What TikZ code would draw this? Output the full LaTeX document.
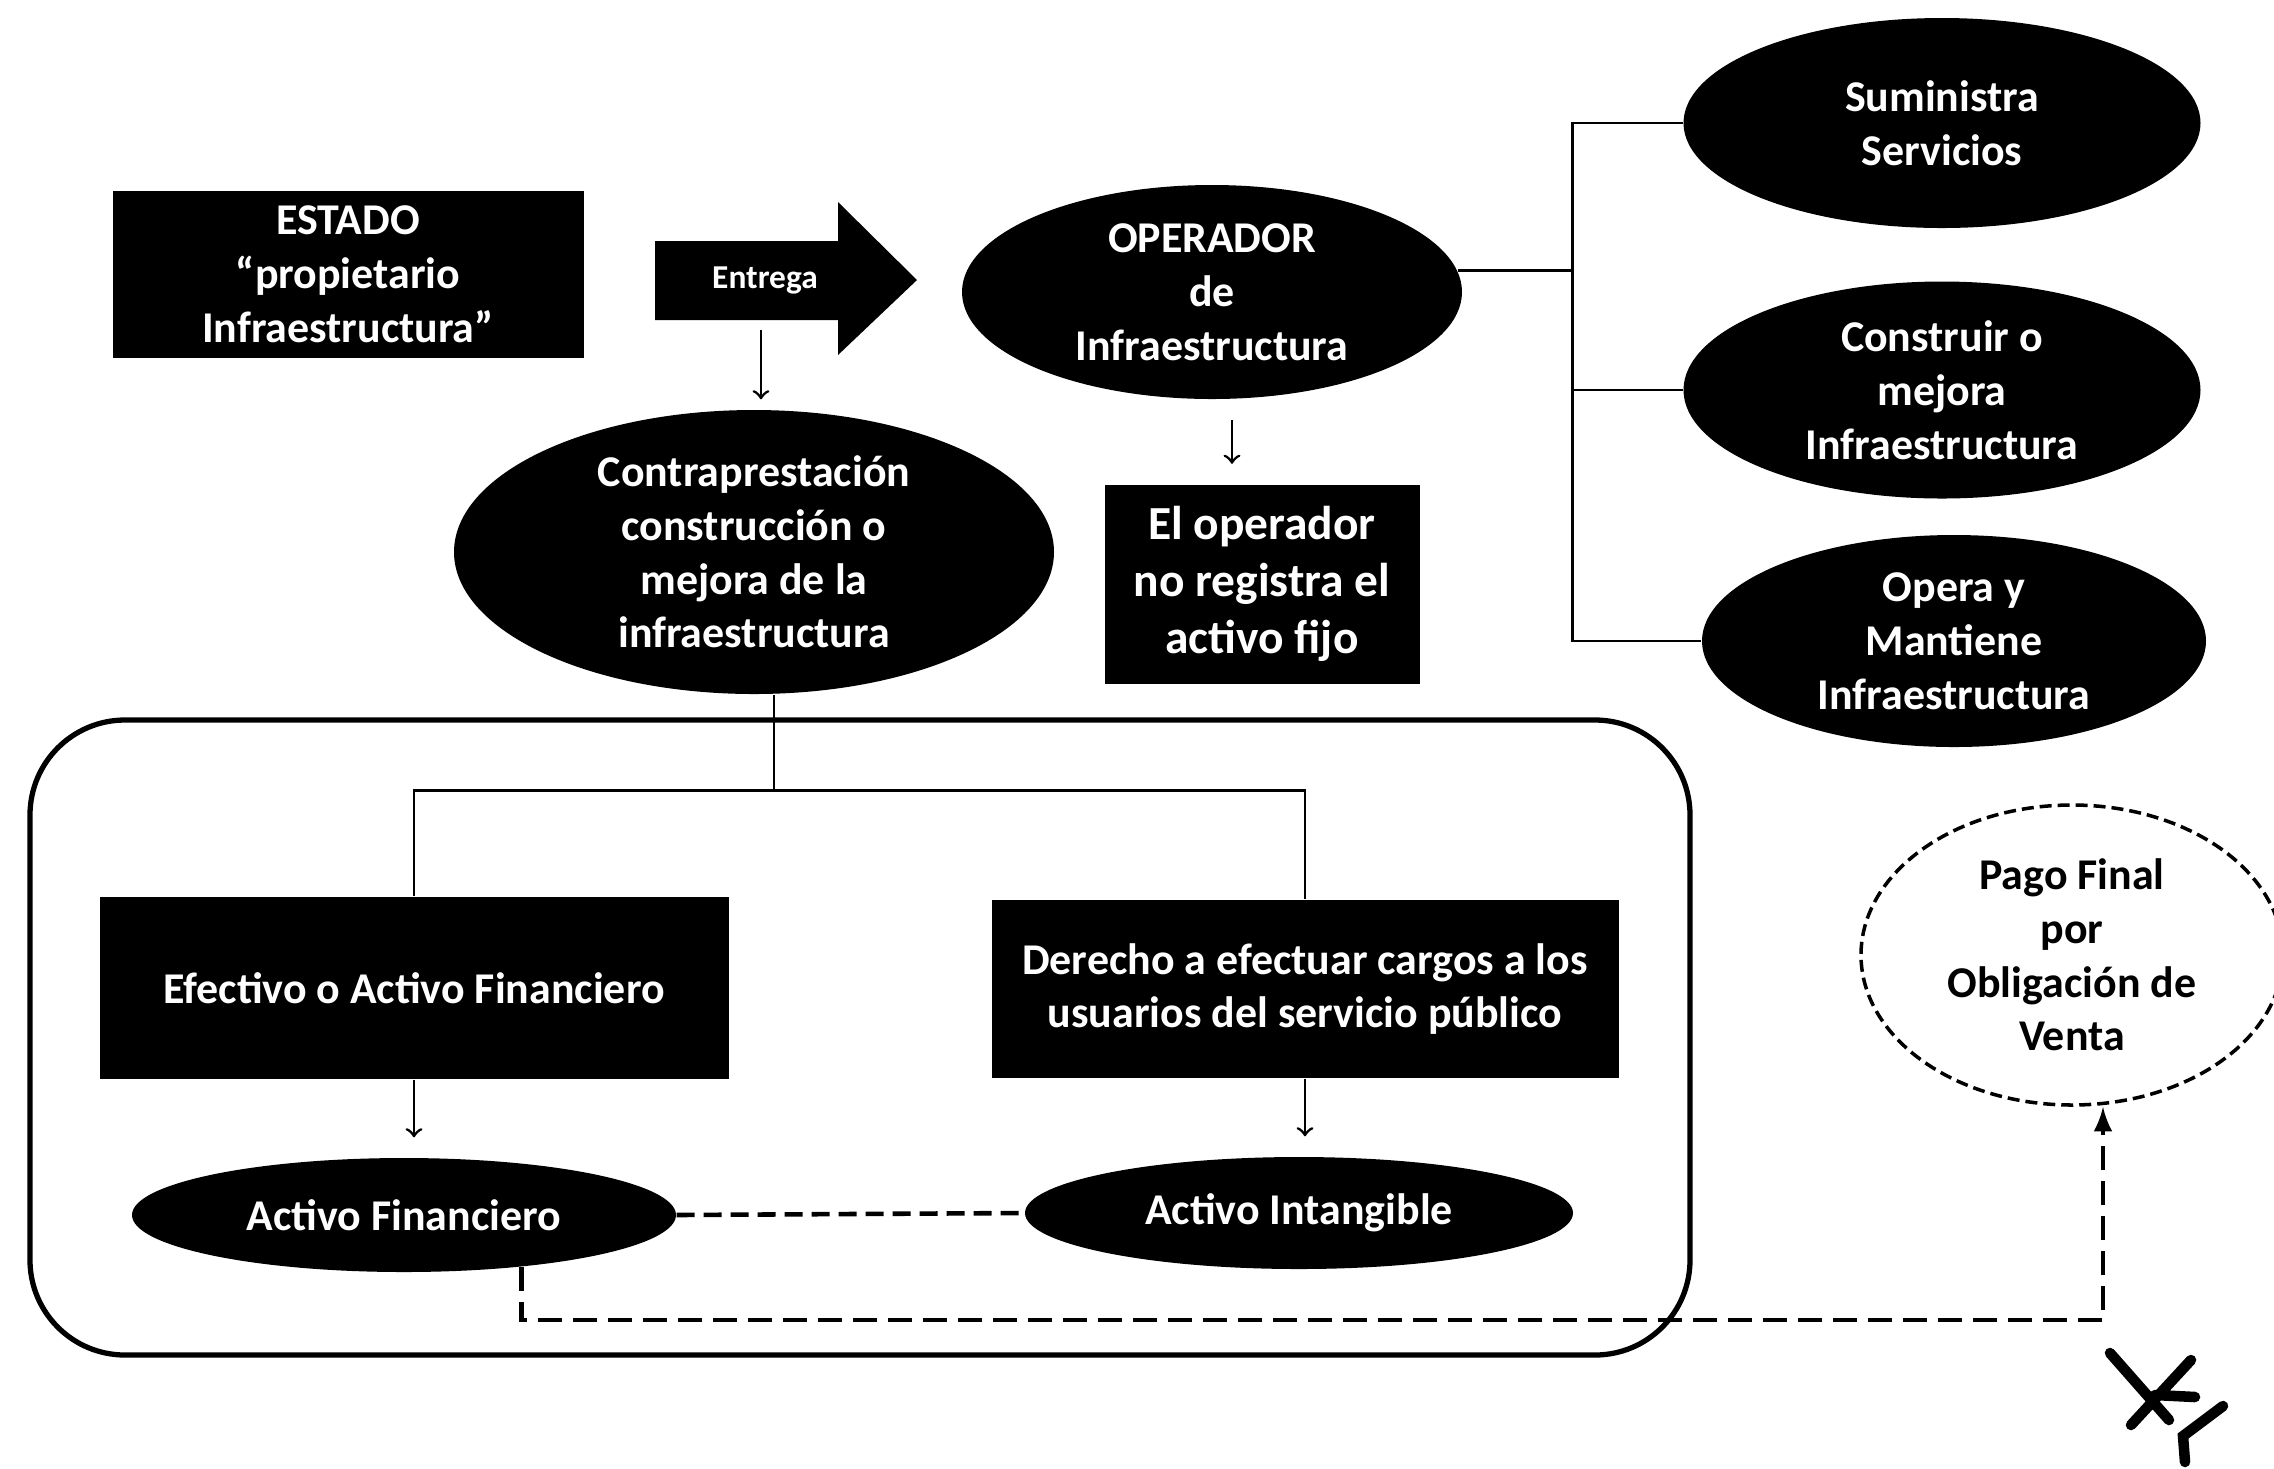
\documentclass[tikz,border=0pt]{standalone}
\usepackage{fontspec}
\setmainfont{Carlito}
\usetikzlibrary{
    arrows,
    shapes,
    calc,
    positioning
}

\begin{document}
\begin{tikzpicture}[x=1cm, y=1cm,
    box/.style={rectangle, fill=black, text=white, align=center, inner sep=0pt,
        font=\fontsize{12.5}{15.3}\selectfont\bfseries},
    blob/.style={ellipse, fill=black, text=white, align=center, inner xsep=0pt, inner ysep=-3mm,
        font=\fontsize{12.5}{15.3}\selectfont\bfseries},
    link/.style={line width=0.8pt},
    dlink/.style={line width=1.4pt, dash pattern=on 2.4mm off 1.1mm}]
    \useasboundingbox (0, 0) rectangle (22.74, -14.68);

    \node[box, minimum width=4.71cm, minimum height=1.67cm] (estado) at (3.48, -2.74)
        {ESTADO\\“propietario\\Infraestructura”};

    \fill (6.55, -2.41) -- (8.38, -2.41) -- (8.38, -2.02) -- (9.17, -2.80)
        -- (8.38, -3.55) -- (8.38, -3.20) -- (6.55, -3.20) -- cycle;
    \node[text=white, font=\fontsize{9.5}{11}\selectfont\bfseries] (entrega) at (7.65, -2.80) {Entrega};
    \coordinate (entregab) at (7.61, -3.30);

    \node[blob, minimum width=5.0cm, minimum height=2.14cm] (operador) at (12.12, -2.92)
        {OPERADOR\\de\\Infraestructura};
    \node[blob, minimum width=6.0cm, minimum height=2.84cm] (contra) at (7.54, -5.52)
        {Contraprestación\\construcción o\\mejora de la\\infraestructura};
    \node[box, minimum width=3.15cm, minimum height=1.99cm,
        font=\fontsize{13.5}{16.2}\selectfont\bfseries] (regist) at (12.62, -5.84)
        {El operador\\no registra el\\activo fijo};

    \node[blob, minimum width=5.17cm, minimum height=2.10cm] (sumin) at (19.42, -1.23)
        {Suministra\\Servicios};
    \node[blob, minimum width=5.17cm, minimum height=2.17cm] (constr) at (19.42, -3.90)
        {Construir o\\mejora\\Infraestructura};
    \node[blob, minimum width=5.04cm, minimum height=2.12cm] (opera) at (19.54, -6.41)
        {Opera y\\Mantiene\\Infraestructura};

    \draw[line width=1.5pt, rounded corners=0.95cm] (0.30, -7.20) rectangle (16.90, -13.55);

    \node[box, minimum width=6.29cm, minimum height=1.82cm] (efectivo) at (4.14, -9.88)
        {Efectivo o Activo Financiero};
    \node[box, minimum width=6.27cm, minimum height=1.78cm] (derecho) at (13.05, -9.89)
        {Derecho a efectuar cargos a los\\usuarios del servicio público};
    \node[blob, minimum width=5.44cm, minimum height=1.14cm] (finan) at (4.04, -12.15)
        {Activo Financiero};
    \node[blob, minimum width=5.48cm, minimum height=1.12cm] (intang) at (12.99, -12.13)
        {Activo Intangible};

    \node[ellipse, draw, fill=white, line width=1pt, dash pattern=on 1.2mm off 0.6mm,
        align=center, inner xsep=0pt, inner ysep=-3mm, minimum width=4.22cm, minimum height=3.0cm,
        font=\fontsize{12.5}{15.3}\selectfont\bfseries] (pago) at (20.72, -9.55)
        {Pago Final\\por\\Obligación de\\Venta};

    \draw[link, ->, shorten >=1mm] (entregab) -- (entregab |- contra.north);
    \draw[link, ->] ([xshift=0.2cm, yshift=-0.2cm]operador.south) -- ([xshift=-0.3cm, yshift=0.2cm]regist.north);

    \draw[link] (operador.5) -- ++(1.15, 0) coordinate (brk);
    \draw[link] (sumin.west) -| (brk) |- (opera.west);
    \draw[link] (brk |- constr.west) -- (constr.west);

    \draw[link] ([xshift=0.2cm]contra.south) -- ++(0, -0.96) coordinate (split);
    \draw[link] (split) -| (efectivo.north);
    \draw[link] (split) -| (derecho.north);
    \draw[link, ->, shorten >=2mm] (efectivo.south) -- (efectivo.south |- finan.north);
    \draw[link, ->, shorten >=2mm] (derecho.south) -- (derecho.south |- intang.north);

    \draw[line width=1.3pt, dash pattern=on 1.8mm off 0.9mm] (finan.east) -- (intang.west);
    \coordinate (turn) at (21.03, -13.20);
    \draw[dlink, -latex] (finan.-24) |- (turn) -- (turn |- pago.south);

    \draw[line width=3pt, line cap=round]
        (21.10, -13.53) -- (21.69, -14.20)
        (21.91, -13.60) -- (21.31, -14.25)
        (21.55, -13.95) -- (21.95, -13.97)
        (22.23, -14.06) -- (21.83, -14.36) -- (21.85, -14.62);
\end{tikzpicture}
\end{document}
